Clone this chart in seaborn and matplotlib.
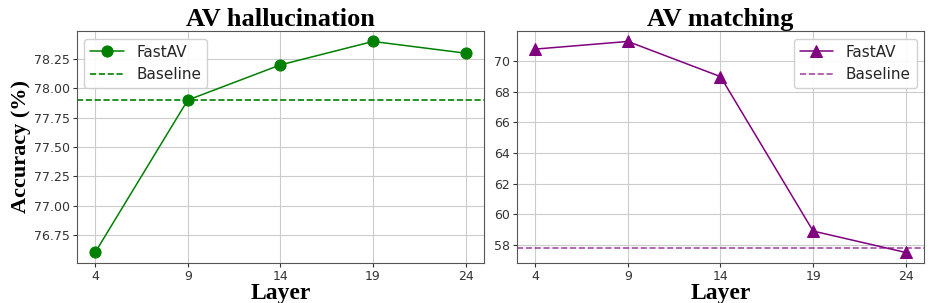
import matplotlib
matplotlib.use("Agg")
import matplotlib.pyplot as plt
import seaborn as sns
import pandas as pd

layers = [4, 9, 14, 19, 24]
halluc_acc = [76.6, 77.9, 78.2, 78.4, 78.3]
halluc_base = 77.9
match_acc = [70.8, 71.3, 69.0, 58.9, 57.5]
match_base = 57.8

sns.set_style("ticks")
serif = ["Liberation Serif", "DejaVu Serif"]

fig, axes = plt.subplots(1, 2, figsize=(9.46, 3.03), dpi=100)
panels = [
    ("AV hallucination", halluc_acc, halluc_base, "green", "o", "upper left", 1.0),
    ("AV matching", match_acc, match_base, "purple", "^", "upper right", 0.7),
]

for ax, (title, acc, base, color, marker, loc, alpha) in zip(axes, panels):
    df = pd.DataFrame({"Layer": layers, "Accuracy": acc})
    sns.lineplot(data=df, x="Layer", y="Accuracy", ax=ax, color=color,
                 marker=marker, markersize=8, markeredgecolor=color,
                 linewidth=1.1, label="FastAV")
    ax.axhline(base, color=color, linestyle="--", linewidth=1.2,
               alpha=alpha, label="Baseline")
    ax.set_xticks(layers)
    ax.grid(True, color="#cccccc", linewidth=0.8)
    ax.tick_params(labelsize=9, length=3, pad=2, colors="#333333")
    for s in ax.spines.values():
        s.set_color("#555555")
    ax.set_title(title, fontsize=19, fontweight="bold", family=serif,
                 pad=3, color="black")
    ax.set_xlabel("Layer", fontsize=17, fontweight="bold", family=serif,
                  labelpad=0, color="black")
    ax.set_ylabel("")
    ax.legend(loc=loc, fontsize=11, framealpha=0.9, handlelength=2.2)

axes[0].set_ylabel("Accuracy (%)", fontsize=16, fontweight="bold",
                   family=serif, labelpad=2, color="black")

plt.subplots_adjust(left=0.081, right=0.977, top=0.898, bottom=0.132, wspace=0.08)
plt.savefig("out.png", dpi=100)
